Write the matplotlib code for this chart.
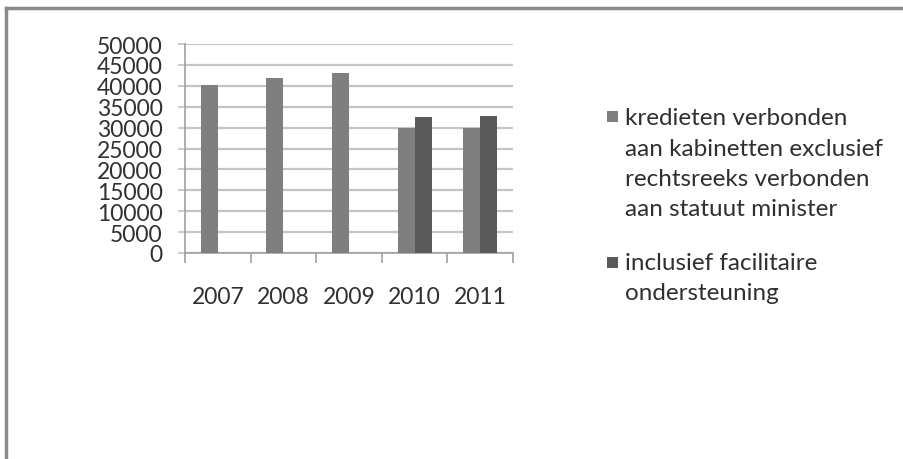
import numpy as np
import matplotlib.pyplot as plt
from matplotlib.lines import Line2D
from matplotlib.patches import Rectangle

# --- data ---
years = ['2007', '2008', '2009', '2010', '2011']
excl = [40200, 41800, 43000, 30000, 30000]
incl = [np.nan, np.nan, np.nan, 32600, 32700]
labels = ['kredieten verbonden\naan kabinetten exclusief\nrechtsreeks verbonden\naan statuut minister',
          'inclusief facilitaire\nondersteuning']
colors = ['#7f7f7f', '#595959']
yticks = list(range(0, 50001, 5000))

plt.rcParams['font.family'] = ['Lato', 'DejaVu Sans']
txt = '#303030'
W, H = 904, 460

fig = plt.figure(figsize=(9.04, 4.60), dpi=100)
ax = fig.add_axes([185 / W, 1 - 254 / H, 328 / W, 209 / H])

x = np.arange(len(years))
w = 0.26
ax.bar(x - w / 2, excl, w, color=colors[0], zorder=3)
ax.bar(x + w / 2, incl, w, color=colors[1], zorder=3)

ax.set_xlim(-0.5, len(years) - 0.5)
ax.set_ylim(0, 50000)
ax.set_yticks(yticks)
ax.set_yticklabels([str(v) for v in yticks])
ax.yaxis.grid(True, color='#c4c4c4', linewidth=1.6, zorder=0)
ax.set_axisbelow(True)

# category labels at centers, tick marks at boundaries
ax.set_xticks(x)
ax.set_xticklabels(years)
ax.set_xticks(np.arange(-0.5, len(years)), minor=True)
ax.tick_params(axis='x', which='major', length=0, pad=24, labelsize=16.5, labelcolor=txt)
ax.tick_params(axis='x', which='minor', length=7, width=1.2, color='#a0a0a0', direction='out')
ax.tick_params(axis='y', length=5, width=1.2, color='#c4c4c4', pad=11, labelsize=16.5, labelcolor=txt)

for s in ['top', 'right']:
    ax.spines[s].set_visible(False)
for s in ['left', 'bottom']:
    ax.spines[s].set_color('#a0a0a0')
    ax.spines[s].set_linewidth(1.2)

# legend drawn by hand: square aligned with first line of each label
line_px = 31.5
first_line_y = [117, 263]
for lab, col, y0 in zip(labels, colors, first_line_y):
    n = lab.count('\n') + 1
    fig.add_artist(Rectangle((607 / W, 1 - (y0 + 5.5) / H), 11 / W, 11 / H,
                             facecolor=col, edgecolor='none', transform=fig.transFigure))
    yc = y0 + (n - 1) * line_px / 2
    fig.text(625 / W, 1 - yc / H, lab, fontsize=17.5, color=txt, va='center', ha='left',
             linespacing=1.55)

# outer frame (top and left border of the screenshot)
fig.add_artist(Line2D([6 / W, 6 / W], [0, 1 - 9 / H], color='#8a8a8a', linewidth=2.5,
                      transform=fig.transFigure))
fig.add_artist(Line2D([6 / W, 1], [1 - 9 / H, 1 - 9 / H], color='#8a8a8a', linewidth=2.5,
                      transform=fig.transFigure))

fig.savefig('out.png', dpi=100)
